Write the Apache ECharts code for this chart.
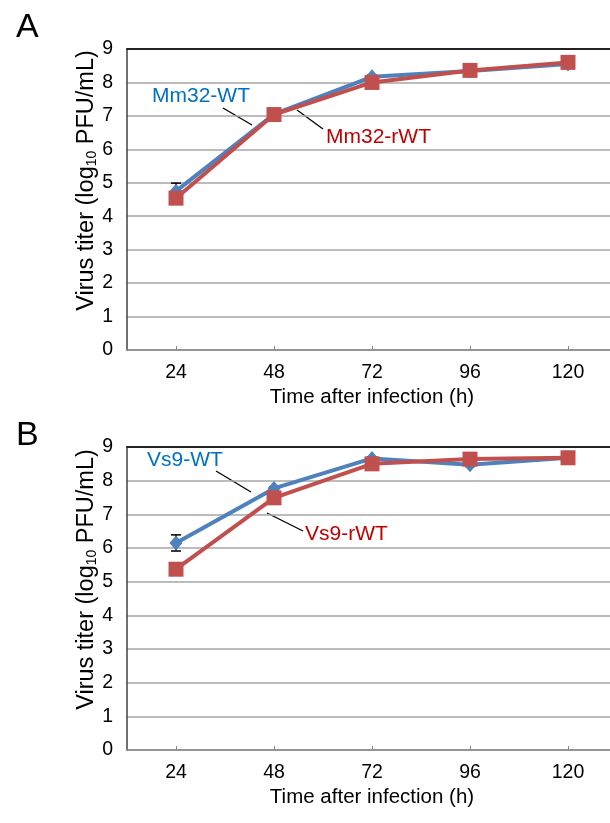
<!DOCTYPE html>
<html>
<head>
<meta charset="utf-8">
<script src="https://cdn.jsdelivr.net/npm/echarts@6/dist/echarts.min.js"></script>
<style>
  html, body { margin: 0; padding: 0; background: #fff; }
  #chart { width: 610px; height: 823px; }
</style>
</head>
<body>
<div id="chart"></div>
<script>
// 数据
const times = ['24', '48', '72', '96', '120']
const yTicks = [0, 9]

// A: Mm32
const mm32WT = [4.75, 7.05, 8.17, 8.34, 8.55]
const mm32WTErr = [0.24, 0.05, 0.05, 0.05, 0.05]
const mm32rWT = [4.54, 7.04, 8.0, 8.36, 8.6]

// B: Vs9
const vs9WT = [6.15, 7.77, 8.66, 8.47, 8.68]
const vs9WTErr = [0.24, 0.05, 0.05, 0.05, 0.05]
const vs9rWT = [5.37, 7.49, 8.5, 8.64, 8.68]

const BLUE = '#4F81BD'
const RED = '#C0504D'
const FONT = '"Liberation Sans", Arial, sans-serif'

const chart = echarts.init(document.getElementById('chart'), null, { renderer: 'canvas' })

const makeX = (gridIndex) => ({
  type: 'category',
  gridIndex,
  data: times,
  boundaryGap: true,
  name: 'Time after infection (h)',
  nameLocation: 'middle',
  nameGap: 37,
  nameTextStyle: { fontFamily: FONT, fontSize: 20.5, color: '#000' },
  axisLine: { lineStyle: { color: '#888888', width: 1.5 } },
  axisTick: { show: true, inside: true, alignWithLabel: true, length: 4, lineStyle: { color: '#888888' } },
  axisLabel: { fontFamily: FONT, fontSize: 19.5, color: '#000', margin: 13 },
  splitLine: { show: false }
})

// 上边框
const makeTop = (gridIndex) => ({
  type: 'category',
  gridIndex,
  data: times,
  position: 'top',
  axisLine: { lineStyle: { color: '#222', width: 2 } },
  axisTick: { show: false },
  axisLabel: { show: false },
  splitLine: { show: false }
})

const makeY = (gridIndex) => ({
  type: 'value',
  gridIndex,
  min: yTicks[0],
  max: yTicks[1],
  interval: 1,
  name: '{a|Virus titer (log}{b|10}{a| PFU/mL)}',
  nameLocation: 'middle',
  nameGap: 28,
  nameMoveOverlap: false,
  nameTextStyle: {
    padding: [0, 0, 0, 38],
    rich: {
      a: { fontFamily: FONT, fontSize: 23.5, color: '#000' },
      b: { fontFamily: FONT, fontSize: 14, color: '#000', verticalAlign: 'bottom', padding: [10, 0, 0, 0] }
    }
  },
  axisLine: { show: true, lineStyle: { color: '#404040', width: 1.5 } },
  axisTick: { show: false },
  axisLabel: { fontFamily: FONT, fontSize: 19.5, color: '#000', margin: 14 },
  splitLine: { lineStyle: { color: '#A6A6A6', width: 1.5 } }
})

const errSeries = (xi, vals, errs) => ({
  type: 'custom',
  xAxisIndex: xi,
  yAxisIndex: xi / 2,
  z: 1,
  data: vals.map((v, i) => [i, v - errs[i], v + errs[i]]),
  renderItem: (params, api) => {
    const lo = api.coord([api.value(0), api.value(1)])
    const hi = api.coord([api.value(0), api.value(2)])
    const w = 5
    const style = { stroke: '#000', lineWidth: 1.5 }
    return {
      type: 'group',
      children: [
        { type: 'line', shape: { x1: lo[0], y1: lo[1], x2: hi[0], y2: hi[1] }, style },
        { type: 'line', shape: { x1: lo[0] - w, y1: lo[1], x2: lo[0] + w, y2: lo[1] }, style },
        { type: 'line', shape: { x1: hi[0] - w, y1: hi[1], x2: hi[0] + w, y2: hi[1] }, style }
      ]
    }
  }
})

const lineSeries = (xi, name, vals, color, symbol, size) => ({
  name,
  type: 'line',
  xAxisIndex: xi,
  yAxisIndex: xi / 2,
  data: vals,
  symbol,
  symbolSize: size,
  lineStyle: { color, width: 4 },
  itemStyle: { color },
  z: 3
})

const label = (text, x, y, color) => ({
  type: 'text',
  left: x,
  top: y,
  style: { text, fill: color, font: '21px ' + FONT }
})
const leader = (x1, y1, x2, y2) => ({
  type: 'line',
  shape: { x1, y1, x2, y2 },
  style: { stroke: '#000', lineWidth: 1.3 }
})

const option = {
  animation: false,
  backgroundColor: '#fff',
  title: [
    { text: 'A', left: 11, top: 6, textStyle: { fontFamily: FONT, fontSize: 34, fontWeight: 'normal', color: '#000' } },
    { text: 'B', left: 11, top: 414, textStyle: { fontFamily: FONT, fontSize: 34, fontWeight: 'normal', color: '#000' } }
  ],
  grid: [
    { left: 127, width: 490, top: 49, height: 301, outerBoundsMode: 'none' },
    { left: 127, width: 490, top: 447, height: 303, outerBoundsMode: 'none' }
  ],
  xAxis: [makeX(0), makeTop(0), makeX(1), makeTop(1)],
  yAxis: [makeY(0), makeY(1)],
  series: [
    errSeries(0, mm32WT, mm32WTErr),
    lineSeries(0, 'Mm32-WT', mm32WT, BLUE, 'diamond', [13, 15]),
    lineSeries(0, 'Mm32-rWT', mm32rWT, RED, 'rect', 15),
    errSeries(2, vs9WT, vs9WTErr),
    lineSeries(2, 'Vs9-WT', vs9WT, BLUE, 'diamond', [13, 15]),
    lineSeries(2, 'Vs9-rWT', vs9rWT, RED, 'rect', 15)
  ],
  graphic: [
    label('Mm32-WT', 152, 86, '#0070C0'),
    leader(223, 108, 252, 125),
    label('Mm32-rWT', 326, 127, '#C00000'),
    leader(297, 110, 323, 129),
    label('Vs9-WT', 147, 450, '#0070C0'),
    leader(216, 471, 251, 492),
    label('Vs9-rWT', 305, 524, '#C00000'),
    leader(267, 513, 303, 531)
  ]
}

chart.setOption(option)
</script>
</body>
</html>
